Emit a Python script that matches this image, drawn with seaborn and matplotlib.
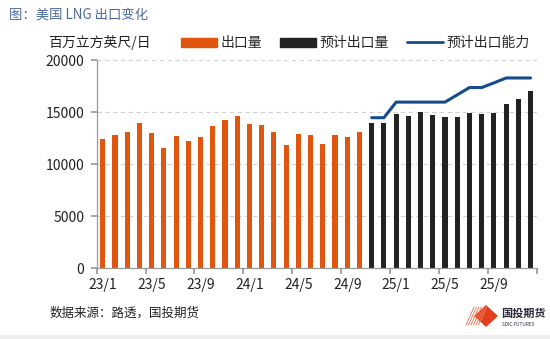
import numpy as np
import pandas as pd
import matplotlib
matplotlib.use("Agg")
import matplotlib.pyplot as plt
import matplotlib.patches as mpatches
from matplotlib.lines import Line2D
import seaborn as sns

# ---------------- data ----------------
months = [f"{y}/{m}" for y in (23, 24, 25) for m in range(1, 13)]
export_actual = [12400, 12820, 13130, 13940, 13040, 11540, 12720, 12270, 12600, 13680, 14260, 14670,
                 13870, 13750, 13130, 11860, 12880, 12790, 11920, 12850, 12660, 13080]
export_forecast = [13940, 14000, 14870, 14670, 15030, 14770, 14580, 14580, 14900, 14810, 14960,
                   15800, 16250, 17080]
capacity = [14480, 14480, 15980, 15980, 15980, 15980, 15980, 16680, 17380, 17380, 17830,
            18300, 18300, 18300]
tick_labels = ["23/1", "23/5", "23/9", "24/1", "24/5", "24/9", "25/1", "25/5", "25/9"]

label_actual = "出口量"
label_fc = "预计出口量"
label_cap = "预计出口能力"

# ---------------- style ----------------
sns.set_theme(style="white")
plt.rcParams["font.family"] = ["Noto Sans CJK SC", "DejaVu Sans"]

c_orange = "#E0560E"
c_black = "#222222"
c_blue = "#154C8C"
c_grid = "#d0d0d0"
c_spine = "#9a9a9a"

n_act = len(export_actual)
df = pd.DataFrame({
    "month": months,
    "value": export_actual + export_forecast,
    "type": [label_actual] * n_act + [label_fc] * len(export_forecast),
})
cap_x = np.arange(n_act, n_act + len(capacity))

fig = plt.figure(figsize=(5.5, 3.39), dpi=100)
ax = fig.add_axes([96.7 / 550, 70.7 / 339, 440 / 550, 208 / 339])

sns.barplot(data=df, x="month", y="value", hue="type", order=months,
            palette={label_actual: c_orange, label_fc: c_black},
            dodge=False, width=0.42, saturation=1, legend=False, ax=ax,
            linewidth=0)
sns.lineplot(x=cap_x, y=capacity, color=c_blue, linewidth=2.2, ax=ax, legend=False)

ax.set_xlim(-0.5, len(months) - 0.5)
ax.set_ylim(0, 20000)
ax.set_yticks([0, 5000, 10000, 15000, 20000])
ax.set_yticklabels(["0", "5000", "10000", "15000", "20000"], fontsize=10, color="#222222")
ax.set_xlabel("")
ax.set_ylabel("")

# ticks at month boundaries, labels at month centers
ax.set_xticks(np.arange(-0.5, len(months), 4))
ax.set_xticklabels([])
ax.set_xticks(np.arange(0, 33, 4), minor=True)
ax.set_xticklabels(tick_labels, minor=True, fontsize=10, color="#222222")
ax.tick_params(axis="x", which="major", length=4, color=c_spine, direction="out", bottom=True)
ax.tick_params(axis="x", which="minor", length=0, pad=7, bottom=True)
ax.tick_params(axis="y", length=4, color=c_spine, direction="out", left=True, pad=5)

for y in [5000, 10000, 15000, 20000]:
    ax.axhline(y, color=c_grid, linestyle=(0, (4, 3)), linewidth=0.8, zorder=0)

for s in ["top", "right"]:
    ax.spines[s].set_visible(False)
for s in ["left", "bottom"]:
    ax.spines[s].set_color(c_spine)
    ax.spines[s].set_linewidth(0.9)

# legend
handles = [mpatches.Patch(color=c_orange, label=label_actual),
           mpatches.Patch(color=c_black, label=label_fc),
           Line2D([0], [0], color=c_blue, linewidth=2, label=label_cap)]
fig.legend(handles=handles, loc="center left", bbox_to_anchor=(168 / 550, 1 - 43 / 339),
           ncol=3, frameon=False, fontsize=10, handlelength=2.6, handleheight=0.6,
           columnspacing=1.3, handletextpad=0.25)

# texts
fig.text(48 / 550, 1 - 43 / 339, "百万立方英尺/日", fontsize=10, va="center", ha="left",
         color="#222222")
fig.text(9 / 550, 1 - 15 / 339, "图：美国 LNG 出口变化", fontsize=9.6, va="center", ha="left",
         color="#4A6A98")
fig.text(50 / 550, 1 - 313 / 339, "数据来源：路透，国投期货", fontsize=9, va="center", ha="left",
         color="#222222")

# logo
logo_pts = [(474, 316), (486, 305), (498, 316), (486, 327)]
fig.patches.append(mpatches.Polygon([(x / 550, 1 - y / 339) for x, y in logo_pts],
                                    closed=True, transform=fig.transFigure,
                                    facecolor="#E2401C", edgecolor="none"))
for k in range(6):
    x0 = 466 + k * 2.5
    fig.add_artist(Line2D([x0 / 550, (x0 + 8) / 550], [1 - 325 / 339, 1 - 307 / 339],
                          transform=fig.transFigure, color="#E88060", linewidth=0.7))
fig.text(501 / 550, 1 - 313 / 339, "国投期货", fontsize=8, va="center", ha="left",
         color="#2a2a3a", fontweight="bold")
fig.text(502 / 550, 1 - 325 / 339, "SDIC FUTURES", fontsize=3.4, va="center", ha="left",
         color="#2a2a3a")

# bottom gray band
fig.patches.append(mpatches.Rectangle((0, 0), 1, 4 / 339, transform=fig.transFigure,
                                      facecolor="#eeeeee", edgecolor="none"))

fig.savefig("out.png", dpi=100)
